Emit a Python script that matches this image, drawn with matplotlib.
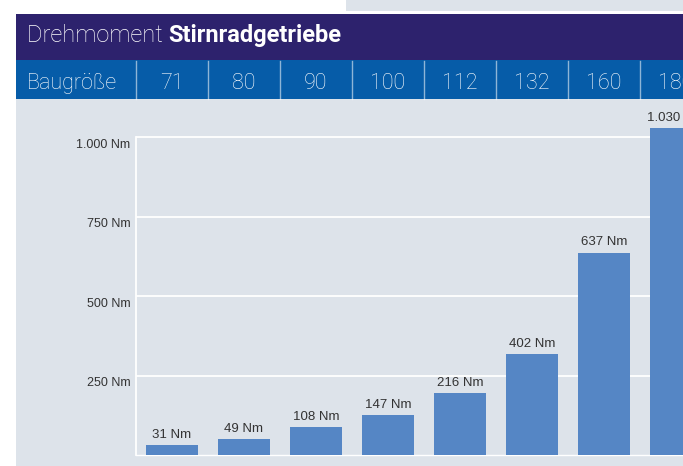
import matplotlib
matplotlib.use('Agg')
import matplotlib.pyplot as plt
import matplotlib.transforms as mtransforms
from matplotlib.patches import Rectangle

# data
sizes = ['71', '80', '90', '100', '112', '132', '160', '180']
bar_heights = [32, 50, 89, 126, 195, 318, 637, 1030]   # as drawn
bar_labels = ['31 Nm', '49 Nm', '108 Nm', '147 Nm', '216 Nm', '402 Nm', '637 Nm', '1.030 Nm']
yticks = [250, 500, 750, 1000]
ytick_labels = ['250 Nm', '500 Nm', '750 Nm', '1.000 Nm']

W, H = 683, 466
purple = '#2d226d'
blue = '#065ca8'
panel = '#dde3ea'
bar_col = '#5586c5'
txt = '#333333'

fig = plt.figure(figsize=(W / 100, H / 100), dpi=100)
fig.patch.set_facecolor('white')


def fy(y):
    # pixel from top -> figure fraction
    return 1 - y / H


def band(x, ytop, h, c):
    fig.add_artist(Rectangle((x / W, fy(ytop + h)), 1, h / H, transform=fig.transFigure,
                             color=c, lw=0, zorder=-10))


# background bands
band(346, 0, 11, panel)
band(16, 14, 46, purple)
band(16, 60, 39, blue)
band(16, 99, H - 99, panel)

hfont = ['Roboto', 'DejaVu Sans']
t = fig.text(27 / W, fy(42), 'Drehmoment ', color='white', fontsize=17,
             family=hfont, weight='light', va='baseline')
fig.canvas.draw()
bb = t.get_window_extent()
fig.text(bb.x1 / W, fy(42), 'Stirnradgetriebe', color='white', fontsize=17,
         family=hfont, weight='bold', va='baseline')
fig.text(27 / W, fy(89), 'Baugröße', color='white', fontsize=15.5,
         family=hfont, weight='light', va='baseline')

# chart axes
y0, scale = 455, 0.3177   # px of zero, px per Nm
ytop = 1100
ax = fig.add_axes([136 / W, fy(y0), 1 - 136 / W, ytop * scale / H])
ax.set_facecolor('none')
ax.set_xlim(-0.5, (W - 136) / 72 - 0.5)
ax.set_ylim(0, ytop)

x = list(range(len(sizes)))
bars = ax.bar(x, bar_heights, width=0.735, color=bar_col, zorder=3)
for xi, h, lab in zip(x, bar_heights, bar_labels):
    ax.annotate(lab, (xi, h), xytext=(0, 3), textcoords='offset points',
                ha='center', va='bottom', fontsize=9.5, color=txt,
                family='Liberation Sans', annotation_clip=False)

ax.set_yticks(yticks)
ax.set_yticklabels(ytick_labels, fontsize=9, color=txt, family='Liberation Sans')
ax.set_xticks([])
ax.tick_params(axis='y', length=0, pad=4)
ax.grid(axis='y', color='white', lw=1.3, zorder=0)
for s in ['top', 'right']:
    ax.spines[s].set_visible(False)
ax.spines['left'].set_color('white')
ax.spines['left'].set_linewidth(1.3)
ax.spines['left'].set_bounds(0, 1000)
ax.spines['bottom'].set_color('white')
ax.spines['bottom'].set_linewidth(1.0)

off = mtransforms.ScaledTranslation(0, -6 / 100, fig.dpi_scale_trans)
for lab in ax.get_yticklabels():
    lab.set_transform(lab.get_transform() + off)

# header cells aligned with the bars
tr = mtransforms.blended_transform_factory(ax.transData, fig.transFigure)
for xi, s in zip(x, sizes):
    fig.text(xi, fy(89), s, transform=tr, ha='center', va='baseline',
             color='white', fontsize=15.5, family=hfont, weight='light')
    fig.add_artist(plt.Line2D([xi - 0.5, xi - 0.5], [fy(99), fy(61)], transform=tr,
                              color='white', alpha=0.55, lw=1))

fig.savefig('out.png', dpi=100)
